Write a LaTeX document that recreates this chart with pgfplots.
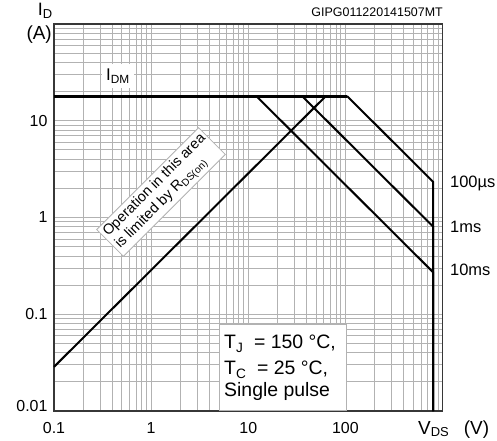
\documentclass[border=0pt]{standalone}
\usepackage{fontspec}
\setmainfont{Liberation Sans}
\usepackage{pgfplots}
\pgfplotsset{compat=1.18}
\definecolor{gridgray}{RGB}{178,178,178}
\definecolor{framegray}{RGB}{55,55,55}

\begin{document}
\begin{tikzpicture}[x=1bp,y=1bp]
\begin{axis}[
    scale only axis,
    width=388.5bp, height=387bp,
    xmode=log, ymode=log,
    xmin=0.1, xmax=1000,
    ymin=0.01, ymax=100,
    xtick={0.1,1,10,100},
    xticklabels={\textrm{0.1},\textrm{1},\textrm{10},\textrm{100}},
    ytick={0.01,0.1,1,10},
    yticklabels={\raisebox{10bp}{\textrm{0.01}},\textrm{0.1},\textrm{1},\textrm{10}},
    minor xtick={0.2,0.3,0.4,0.5,0.6,0.7,0.8,0.9,2,3,4,5,6,7,8,9,20,30,40,50,60,70,80,90,200,300,400,500,600,700,800,900},
    minor ytick={0.02,0.03,0.04,0.05,0.06,0.07,0.08,0.09,0.2,0.3,0.4,0.5,0.6,0.7,0.8,0.9,2,3,4,5,6,7,8,9,20,30,40,50,60,70,80,90},
    grid=both,
    major grid style={gridgray, line width=0.9bp},
    minor grid style={gridgray, line width=0.9bp},
    major tick length=0pt, minor tick length=0pt,
    axis line style={framegray, line width=1.3bp},
    tick label style={font=\fontsize{16}{18}\selectfont},
    xticklabel style={yshift=-8bp},
    yticklabel style={xshift=-3bp},
    clip=false,
]
% I_DM limit
\addplot[black, line width=3bp] coordinates {(0.1,18) (104,18)};
% R_DS(on) limit
\addplot[black, line width=2bp] coordinates {(0.1,0.0286) (63,18)};
% 100 us
\addplot[black, line width=2bp] coordinates {(104,18) (800,2.34) (800,0.01)};
% 1 ms
\addplot[black, line width=2bp] coordinates {(35.8,18) (800,0.805) (800,0.01)};
% 10 ms
\addplot[black, line width=2bp] coordinates {(12.1,18) (800,0.272) (800,0.01)};
\coordinate (O) at (rel axis cs:0,0);
\end{axis}

\begin{scope}[shift={(O)}]
  \path (-54,-30) rectangle ++(497,441);
  \node[font=\fontsize{18}{20}\selectfont] at (-9,400) {I\raisebox{-2.5bp}{\fontsize{13}{13}\selectfont D}};
  \node[anchor=east, inner sep=0pt, font=\fontsize{19}{21}\selectfont] at (-2,376) {(A)};
  \node[anchor=east, inner sep=0pt, font=\fontsize{12.5}{15}\selectfont] at (389,399) {GIPG011220141507MT};
  \node[fill=white, inner sep=4.5bp, font=\fontsize{17}{19}\selectfont] at (64,335) {I\textsubscript{DM}};
  \node[anchor=west, inner sep=0pt, font=\fontsize{16.5}{19}\selectfont] at (396,228) {100µs};
  \node[anchor=west, inner sep=0pt, font=\fontsize{16.5}{19}\selectfont] at (396,184) {1ms};
  \node[anchor=west, inner sep=0pt, font=\fontsize{16.5}{19}\selectfont] at (396,141) {10ms};
  \node[anchor=west, inner sep=0pt, font=\fontsize{19}{21}\selectfont] at (364,-19)
        {V\raisebox{-2bp}{\fontsize{13}{13}\selectfont DS}\hspace{15bp}(V)};
  \node[rotate=45, fill=white, draw=gridgray, line width=0.8bp, align=left, inner sep=3bp,
        font=\fontsize{14.5}{17}\selectfont] at (107,219)
        {Operation in this area\\is limited by R\textsubscript{DS(on)}};
  \filldraw[fill=white, draw=gridgray, line width=0.8bp] (165,0.7) rectangle (292,87);
  \node[anchor=base west, inner sep=0pt, font=\fontsize{19.5}{24}\selectfont] at (170,62) {T\textsubscript{J}\ \ = 150 °C,};
  \node[anchor=base west, inner sep=0pt, font=\fontsize{19.5}{24}\selectfont] at (170,36) {T\textsubscript{C}\ \ = 25 °C,};
  \node[anchor=base west, inner sep=0pt, font=\fontsize{19.5}{24}\selectfont] at (170,14) {Single pulse};
\end{scope}
\end{tikzpicture}
\end{document}
